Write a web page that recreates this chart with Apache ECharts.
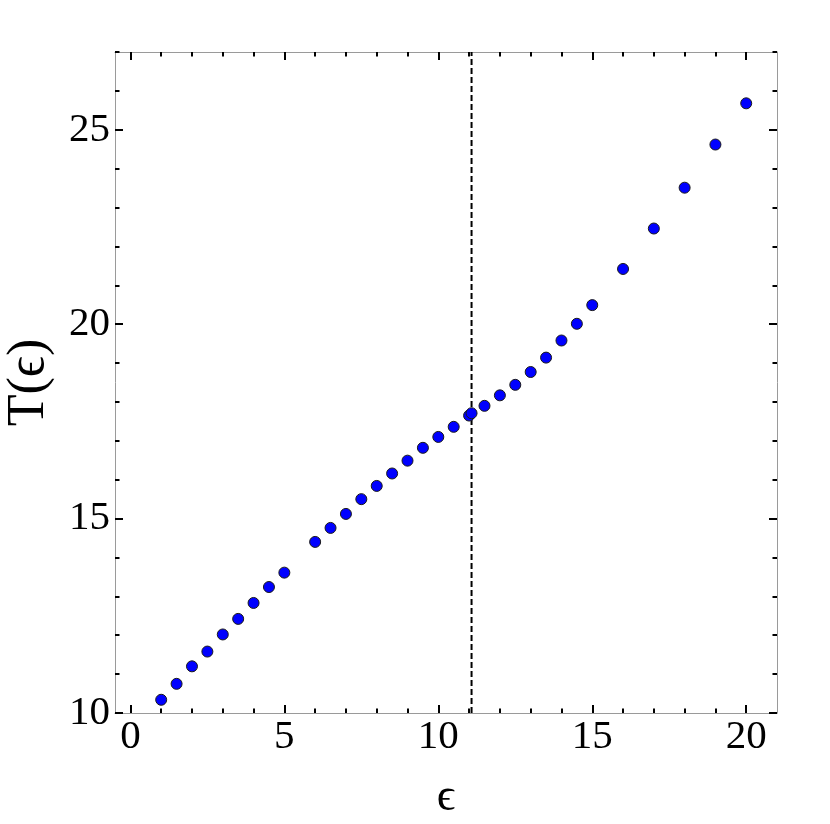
<!DOCTYPE html>
<html>
<head>
<meta charset="utf-8">
<script src="https://cdn.jsdelivr.net/npm/echarts@6/dist/echarts.min.js"></script>
<style>
html,body{margin:0;padding:0;background:#fff;}
#chart{width:830px;height:824px;}
</style>
</head>
<body>
<div id="chart"></div>
<script>
// ---- data ----
const epsValues = [1,1.5,2,2.5,3,3.5,4,4.5,5,6,6.5,7,7.5,8,8.5,9,9.5,10,10.5,11,11.08,11.5,12,12.5,13,13.5,14,14.5,15,16,17,18,19,20];
const tValues   = [10.34,10.75,11.20,11.58,12.02,12.42,12.83,13.24,13.61,14.40,14.76,15.12,15.50,15.84,16.16,16.49,16.82,17.10,17.36,17.65,17.71,17.90,18.17,18.44,18.77,19.14,19.58,20.01,20.49,21.42,22.46,23.51,24.62,25.68];
const thresholdEps = 11.08;
const xMajorTicks = [0,5,10,15,20];
const xMinorTicks = [1,2,3,4,6,7,8,9,11,12,13,14,16,17,18,19];
const yMajorTicks = [10,15,20,25];
const yMinorTicks = [11,12,13,14,16,17,18,19,21,22,23,24,26,27];
const xRange = [-0.5, 21];
const yRange = [10, 27];

const FONT = "Liberation Serif";
const frameColor = '#9a9a9a';

function xAx(pos, ticks, len, labels, line){
  return {
    type:'value', position:pos, min:xRange[0], max:xRange[1],
    axisLine:{show:line, onZero:false, lineStyle:{color:frameColor,width:1}},
    axisTick:{show:true, inside:true, length:len, customValues:ticks, lineStyle:{color:'#000',width:2}},
    axisLabel: labels ? {show:true, customValues:ticks, margin:4, color:'#000', fontFamily:FONT, fontSize:41} : {show:false},
    splitLine:{show:false}
  };
}
function yAx(pos, ticks, len, labels, line){
  return {
    type:'value', position:pos, min:yRange[0], max:yRange[1],
    axisLine:{show:line, onZero:false, lineStyle:{color:frameColor,width:1}},
    axisTick:{show:true, inside:true, length:len, customValues:ticks, lineStyle:{color:'#000',width:2}},
    axisLabel: labels ? {show:true, customValues:ticks, margin:5, color:'#000', fontFamily:FONT, fontSize:41} : {show:false},
    splitLine:{show:false}
  };
}

const xMain = xAx('bottom', xMajorTicks, 8, true, true);
xMain.name = '\u03F5';
xMain.nameLocation = 'middle';
xMain.nameGap = 62;
xMain.nameTextStyle = {fontFamily:FONT, fontSize:46, color:'#000'};

const yMain = yAx('left', yMajorTicks, 8, true, true);
yMain.name = 'T(\u03F5)';
yMain.nameLocation = 'middle';
yMain.nameRotate = 90;
yMain.nameGap = 60;
yMain.nameTextStyle = {fontFamily:FONT, fontSize:52, color:'#000'};

const chart = echarts.init(document.getElementById('chart'));
chart.setOption({
  animation:false,
  backgroundColor:'#fff',
  grid:{left:115, right:53, top:52, bottom:111, containLabel:false, outerBoundsMode:'none'},
  xAxis:[
    xMain,
    xAx('bottom', xMinorTicks, 4.5, false, false),
    xAx('top', xMajorTicks, 8, false, true),
    xAx('top', xMinorTicks, 4.5, false, false)
  ],
  yAxis:[
    yMain,
    yAx('left', yMinorTicks, 4.5, false, false),
    yAx('right', yMajorTicks, 8, false, true),
    yAx('right', yMinorTicks, 4.5, false, false)
  ],
  series:[
    {
      type:'line', xAxisIndex:0, yAxisIndex:0, z:1,
      data:[[thresholdEps, yRange[0]],[thresholdEps, yRange[1]]],
      symbol:'none', silent:true,
      lineStyle:{color:'#000', width:2, type:[6,3]}
    },
    {
      type:'scatter', xAxisIndex:0, yAxisIndex:0, z:3,
      data: epsValues.map((e,i)=>[e, tValues[i]]),
      symbol:'circle', symbolSize:11,
      itemStyle:{color:'#0000ff', borderColor:'#1a1a1a', borderWidth:1, opacity:1}
    }
  ]
});
</script>
</body>
</html>
